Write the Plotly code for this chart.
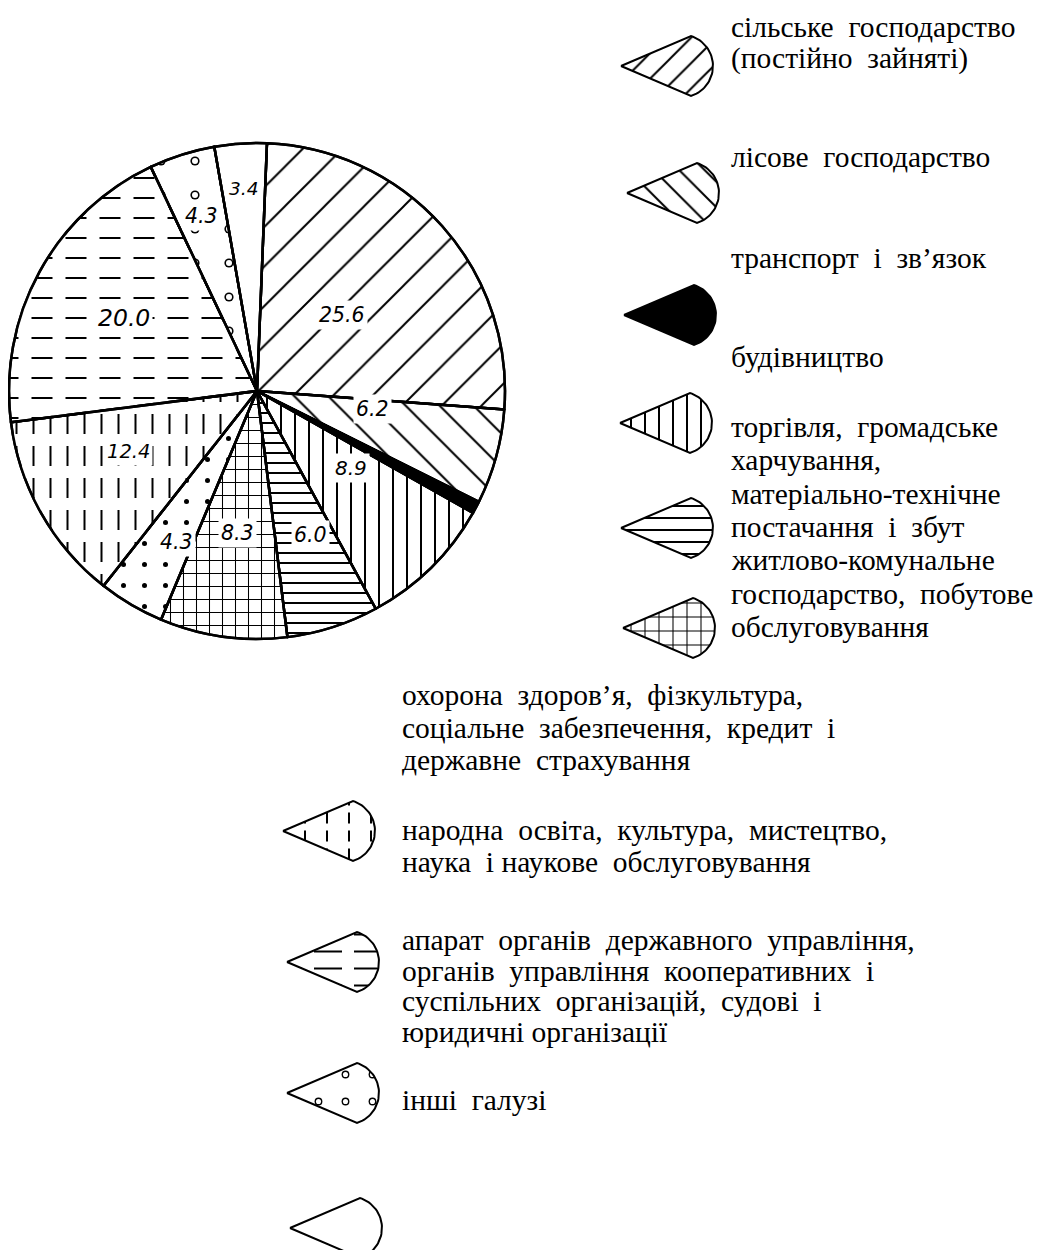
import math
import plotly.graph_objects as go

# ---------------- data ----------------
values = [25.6, 6.2, 0.8, 8.9, 6.0, 8.3, 4.3, 12.4, 20.0, 4.3, 3.4]
show_value = [True, True, False, True, True, True, True, True, True, True, True]

categories = [
    "сільське господарство (постійно зайняті)",
    "лісове господарство",
    "транспорт і зв’язок",
    "будівництво",
    "торгівля, громадське харчування, матеріально-технічне постачання і збут",
    "житлово-комунальне господарство, побутове обслуговування",
    "охорона здоров’я, фізкультура, соціальне забезпечення, кредит і державне страхування",
    "народна освіта, культура, мистецтво, наука і наукове обслуговування",
    "апарат органів державного управління, органів управління кооперативних і суспільних організацій, судові і юридичні організації",
    "інші галузі",
]

legend_lines = [
    ["сільське  господарство", "(постійно  зайняті)"],
    ["лісове  господарство"],
    ["транспорт  і  зв’язок"],
    ["будівництво"],
    ["торгівля,  громадське", "харчування,", "матеріально-технічне", "постачання  і  збут"],
    ["житлово-комунальне", "господарство,  побутове", "обслуговування"],
    ["охорона  здоров’я,  фізкультура,", "соціальне  забезпечення,  кредит  і", "державне  страхування"],
    ["народна  освіта,  культура,  мистецтво,", "наука  і наукове  обслуговування"],
    ["апарат  органів  державного  управління,", "органів  управління  кооперативних  і",
     "суспільних  організацій,  судові  і", "юридичні організації"],
    ["інші  галузі"],
]

# ---------------- layout / style ----------------
PAGE_W, PAGE_H = 1054, 1258
OFF = 8                      # default body margin of the html page
FW, FH = PAGE_W - 2 * OFF, PAGE_H - 2 * OFF
CX, CY, R = 257, 391, 248    # page pixel coordinates of the pie
ROT = 2.3
LW = 2.0

# per-slice fill styles (pie order, clockwise)
pie_shape = ["/", "\\", "", "|", "-", "+", ".", "|", "-", ".", ""]
pie_psize = [28, 24, 10, 14, 10, 13, 21, 17, 20, 34, 10]
pie_dotr = [0, 0, 0, 0, 0, 0, 2.5, 0, 0, 4.6, 0]
pie_fill = ["white", "white", "black", "white", "white", "white", "white", "white", "white", "white", "white"]
mask_shape = ["", "", "", "", "", "", "", "-", "|", ".", ""]
mask_psize = [10, 10, 10, 10, 10, 10, 10, 32, 34, 34, 10]
mask_width = [0, 0, 0, 0, 0, 0, 0, 12, 13, 0, 0]
mask_dotr = [0, 0, 0, 0, 0, 0, 0, 0, 0, 3.0, 0]
label_frac = [0.46, 0.47, 0, 0.49, 0.62, 0.58, 0.69, 0.575, 0.61, 0.74, 0.82]
label_dang = [0, -6.5, 0, -6.4, -2.4, 0, -2.6, 4.2, 0, 0, 0]
label_size = [20.5, 20.5, 20, 20, 20.5, 20.5, 20.5, 19.5, 23.5, 20.5, 18.5]

# legend icons -> slice they represent
icon_slice = [0, 1, 2, 3, 4, 5, 7, 8, 9, 10]
icon_tip = [(621, 66), (627, 193), (624, 315), (620, 423), (621, 528), (623, 628),
            (283, 831), (287, 962), (287, 1093), (290, 1228)]
icon_psize = {0: 18, 1: 18, 3: 14, 4: 12, 5: 14, 7: 22, 8: 17, 9: 27}
icon_mask = {7: ("-", 18, 7), 8: ("|", 40, 12)}
text_x = [730] * 6 + [401] * 4
text_y0 = [27, 157, 258, 357, 427, 560, 695, 830, 940, 1100]
text_step = [31, 32, 32, 32, 33.3, 33.5, 32.5, 32, 30.7, 32]


def solidity(shape, size, dotr=0.0, width=LW):
    if shape == "":
        return 0.3
    if shape == ".":
        return min(0.78, math.pi * dotr * dotr / (size * size))
    return min(1.0, width / size)


def nb(s):
    return s.replace(" ", "\u00a0")


fig = go.Figure()

dom_x = [(CX - OFF - R) / FW, (CX - OFF + R) / FW]
dom_y = [1 - (CY - OFF + R) / FH, 1 - (CY - OFF - R) / FH]

common = dict(values=values, sort=False, direction="clockwise", rotation=ROT,
              textinfo="none", hoverinfo="skip", showlegend=False,
              domain=dict(x=dom_x, y=dom_y))

# base pie with hatch patterns
fig.add_trace(go.Pie(
    **common,
    marker=dict(
        colors=pie_fill,
        line=dict(color="black", width=2.5),
        pattern=dict(
            shape=pie_shape,
            size=pie_psize,
            solidity=[solidity(s, z, d) for s, z, d in zip(pie_shape, pie_psize, pie_dotr)],
            fgcolor="black",
            bgcolor=pie_fill,
            fillmode="replace",
        ),
    ),
))
# white masks that break lines into dashes / dots into rings
fig.add_trace(go.Pie(
    **common,
    marker=dict(
        colors=["rgba(0,0,0,0)"] * len(values),
        line=dict(width=0),
        pattern=dict(
            shape=mask_shape,
            size=mask_psize,
            solidity=[solidity(s, z, d, w if w else LW) for s, z, d, w in
                      zip(mask_shape, mask_psize, mask_dotr, mask_width)],
            fgcolor="white",
            bgcolor="rgba(0,0,0,0)",
            fillmode="replace",
        ),
    ),
))
# slice outlines on top
fig.add_trace(go.Pie(
    **common,
    marker=dict(colors=["rgba(0,0,0,0)"] * len(values),
                line=dict(color="black", width=2.5)),
))

# value labels
annotations = []
total = sum(values)
cum = 0.0
for i, v in enumerate(values):
    mid = math.radians(ROT + 360.0 * (cum + v / 2.0) / total + label_dang[i])
    cum += v
    if not show_value[i]:
        continue
    f = label_frac[i]
    annotations.append(dict(
        x=CX + f * R * math.sin(mid), y=CY - f * R * math.cos(mid),
        xref="x", yref="y", text=f"{v:.1f}", showarrow=False,
        font=dict(family="DejaVu Sans", size=label_size[i], color="black", style="italic"),
        bgcolor="white", borderpad=2,
    ))


# legend icons (cone shape)
def cone(x0, yc, L=70.0, h=30.0, cxo=60.5):
    Rr = math.hypot(L - cxo, h)
    a0 = math.atan2(-h, L - cxo)
    xs, ys = [x0], [yc]
    n = 40
    for k in range(n + 1):
        a = a0 - 2 * a0 * k / n
        xs.append(x0 + cxo + Rr * math.cos(a))
        ys.append(yc + Rr * math.sin(a))
    xs.append(x0)
    ys.append(yc)
    return xs, ys


for j, s in enumerate(icon_slice):
    x0, yc = icon_tip[j]
    xs, ys = cone(x0, yc)
    shp = pie_shape[s]
    if pie_fill[s] == "black":
        fig.add_trace(go.Scatter(x=xs, y=ys, mode="lines", fill="toself", fillcolor="black",
                                 line=dict(color="black", width=2), hoverinfo="skip",
                                 showlegend=False))
        continue
    if shp:
        z = icon_psize[s]
        fig.add_trace(go.Scatter(
            x=xs, y=ys, mode="lines", fill="toself", fillcolor="white",
            line=dict(width=0), hoverinfo="skip", showlegend=False,
            fillpattern=dict(shape=shp, size=z,
                             solidity=solidity(shp, z, pie_dotr[s] * 0.85 if shp == "." else 0),
                             fgcolor="black", bgcolor="white", fillmode="replace")))
        if s in icon_mask:
            ms, mz, mw = icon_mask[s]
            fig.add_trace(go.Scatter(
                x=xs, y=ys, mode="lines", fill="toself", fillcolor="rgba(0,0,0,0)",
                line=dict(width=0), hoverinfo="skip", showlegend=False,
                fillpattern=dict(shape=ms, size=mz, solidity=solidity(ms, mz, 0, mw),
                                 fgcolor="white", bgcolor="rgba(0,0,0,0)", fillmode="replace")))
        if shp == "." and mask_shape[s] == ".":
            fig.add_trace(go.Scatter(
                x=xs, y=ys, mode="lines", fill="toself", fillcolor="rgba(0,0,0,0)",
                line=dict(width=0), hoverinfo="skip", showlegend=False,
                fillpattern=dict(shape=".", size=z, solidity=solidity(".", z, mask_dotr[s] * 0.85),
                                 fgcolor="white", bgcolor="rgba(0,0,0,0)", fillmode="replace")))
    fig.add_trace(go.Scatter(x=xs, y=ys, mode="lines", line=dict(color="black", width=2),
                             hoverinfo="skip", showlegend=False))

# legend texts
for j, lines in enumerate(legend_lines):
    for k, line in enumerate(lines):
        annotations.append(dict(
            x=text_x[j], y=text_y0[j] + k * text_step[j], xref="x", yref="y",
            xanchor="left", yanchor="middle", text=nb(line), showarrow=False,
            font=dict(family="Liberation Serif", size=29.5, color="black"),
            borderpad=0,
        ))

fig.update_layout(
    width=FW, height=FH, margin=dict(l=0, r=0, t=0, b=0),
    paper_bgcolor="white", plot_bgcolor="white",
    showlegend=False,
    xaxis=dict(range=[OFF, OFF + FW], visible=False, fixedrange=True, domain=[0, 1]),
    yaxis=dict(range=[OFF + FH, OFF], visible=False, fixedrange=True, domain=[0, 1]),
    annotations=annotations,
)

fig.write_html("out.html")
